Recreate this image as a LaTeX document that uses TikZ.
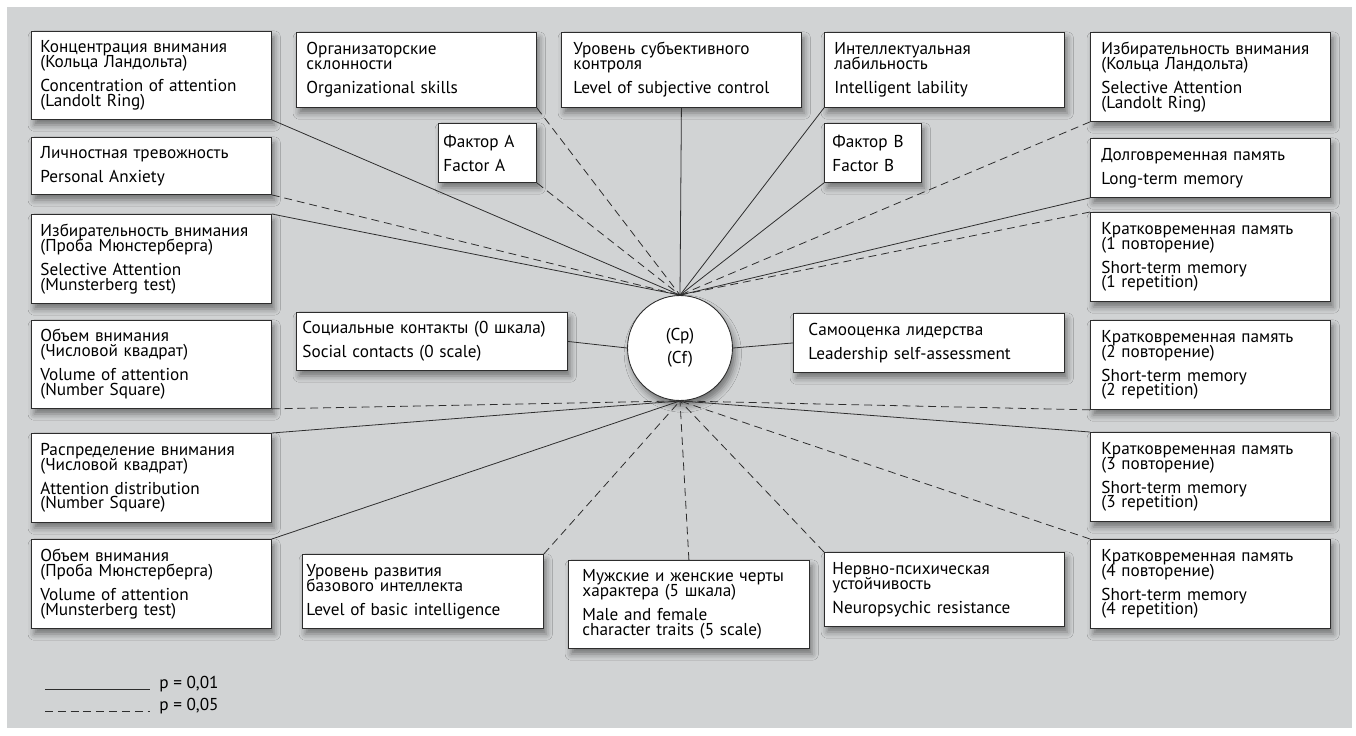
\documentclass[tikz,border=0pt]{standalone}
\usepackage{fontspec}
\setmainfont{PT Sans}
\usepackage{xcolor}
\definecolor{panel}{RGB}{209,211,212}
\definecolor{ink}{RGB}{45,45,45}
\usetikzlibrary{shadows.blur}
\newcommand{\cfont}{\fontsize{9.8pt}{8.45pt}\selectfont\lineskiplimit=-20pt}
\tikzset{
    cast/.style={blur shadow={shadow xshift=1.6pt, shadow yshift=-3.2pt,
        shadow blur radius=3.5pt, shadow opacity=45}},
    cbox/.style={draw=ink, line width=.5pt, fill=white, cast,
        anchor=north west, align=left, inner xsep=.18cm,
        text width=4.44cm, minimum height=#1, font=\cfont},
    cbox/.default=1.78cm,
    rbox/.style={cbox=#1, inner xsep=.22cm, text width=4.36cm},
    rbox/.default=1.78cm,
    p01/.style={draw=ink, line width=.45pt},
    p05/.style={p01, dash pattern=on 4.5pt off 2.8pt},
    }

\begin{document}
\begin{tikzpicture}
    [x=0.02cm, y=-0.02cm]
    \useasboundingbox (0,0) rectangle (1356,735);
    \fill[panel] (7,7) rectangle (1352,728);
    % top row
    \node[cbox=1.76cm] (conc) at (31,31)
        {Концентрация внимания\\(Кольца Ландольта)\\[5.2pt]Concentration of attention\\(Landolt Ring)};
    \node[cbox=1.5cm, inner xsep=.2cm, text width=4.4cm] (org) at (296,32)
        {Организаторские\\склонности\\[5.2pt]Organizational skills};
    \node[cbox=1.5cm, inner xsep=.24cm, text width=4.32cm] (lsc) at (561,32)
        {Уровень субъективного\\контроля\\[5.2pt]Level of subjective control};
    \node[cbox=1.5cm, inner xsep=.2cm, text width=4.4cm] (intel) at (824,32)
        {Интеллектуальная\\лабильность\\[5.2pt]Intelligent lability};
    \node[rbox] (selL) at (1090,32)
        {Избирательность внимания\\(Кольца Ландольта)\\[5.2pt]Selective Attention\\(Landolt Ring)};
    \node[cbox=1.18cm, inner xsep=.1cm, text width=1.76cm] (facA) at (438,123)
        {Фактор A\\[5.2pt]Factor A};
    \node[cbox=1.18cm, inner xsep=.16cm, text width=1.62cm] (facB) at (824,123)
        {Фактор B\\[5.2pt]Factor B};
    % left column
    \node[cbox=1.14cm] (anx) at (31,137)
        {Личностная тревожность\\[5.2pt]Personal Anxiety};
    \node[cbox] (selM) at (31,214)
        {Избирательность внимания\\(Проба Мюнстерберга)\\[5.2pt]Selective Attention\\(Munsterberg test)};
    \node[cbox=1.76cm] (volN) at (31,320)
        {Объем внимания\\(Числовой квадрат)\\[5.2pt]Volume of attention\\(Number Square)};
    \node[cbox] (dist) at (31,433)
        {Распределение внимания\\(Числовой квадрат)\\[5.2pt]Attention distribution\\(Number Square)};
    \node[cbox] (volM) at (31,539)
        {Объем внимания\\(Проба Мюнстерберга)\\[5.2pt]Volume of attention\\(Munsterberg test)};
    % right column
    \node[rbox=1.18cm] (ltm) at (1090,138)
        {Долговременная память\\[5.2pt]Long-term memory};
    \foreach \i/\y in {1/212,2/320,3/432,4/539}
        \node[rbox] (stm\i) at (1090,\y)
            {Кратковременная память\\(\i\ повторение)\\[5.2pt]Short-term memory\\(\i\ repetition)};
    % middle
    \node[cbox=1.16cm, inner xsep=.12cm, text width=5.18cm] (soc) at (296,312)
        {Социальные контакты (0 шкала)\\[5.2pt]Social contacts (0 scale)};
    \node[cbox=1.18cm, inner xsep=.3cm, text width=4.82cm] (lead) at (793,313)
        {Самооценка лидерства\\[5.2pt]Leadership self-assessment};
    \node[cbox=1.48cm, inner xsep=.08cm, text width=4.66cm] (basic) at (302,554)
        {Уровень развития\\базового интеллекта\\[5.2pt]Level of basic intelligence};
    \node[cbox=1.76cm, inner xsep=.28cm, text width=4.26cm] (traits) at (568,560)
        {Мужские и женские черты\\характера (5 шкала)\\[5.2pt]Male and female\\character traits (5 scale)};
    \node[cbox=1.48cm, inner xsep=.16cm, text width=4.48cm] (neuro) at (824,552)
        {Нервно-психическая\\устойчивость\\[5.2pt]Neuropsychic resistance};
    \node[circle, draw=ink, line width=.5pt, fill=white, cast, minimum size=2.1cm,
        inner sep=0pt, align=center, font=\cfont] (c) at (680,348)
        {(Cp)\\[4.6pt](Cf)};
    % links
    \foreach \n/\a/\s in {conc/south east/p01, org/south east/p05, lsc/south/p01,
        intel/south west/p01, facA/south east/p05, facB/south west/p01,
        selL/south west/p05, anx/south east/p05, ltm/south west/p01,
        selM/north east/p01, stm1/north west/p05}
        \draw[\s] (\n.\a) -- (c.north);
    \foreach \n/\a/\s in {volN/south east/p05, stm2/south west/p05,
        dist/north east/p01, volM/north east/p01, basic/north east/p05,
        traits/north/p05, neuro/north west/p05, stm3/north west/p01,
        stm4/north west/p05}
        \draw[\s] (\n.\a) -- (c.south);
    \draw[p01] (soc.east) -- (c.west);
    \draw[p01] (lead.west) -- (c.east);
    % legend
    \draw[p01] (45,689) -- (150,689);
    \node[anchor=base west, inner sep=0pt, font=\cfont] (l01) at (159,688) {p = 0,01};
    \draw[p05] (45,711) -- (150,711);
    \node[anchor=base west, inner sep=0pt, font=\cfont] (l05) at (159,710) {p = 0,05};
\end{tikzpicture}
\end{document}
